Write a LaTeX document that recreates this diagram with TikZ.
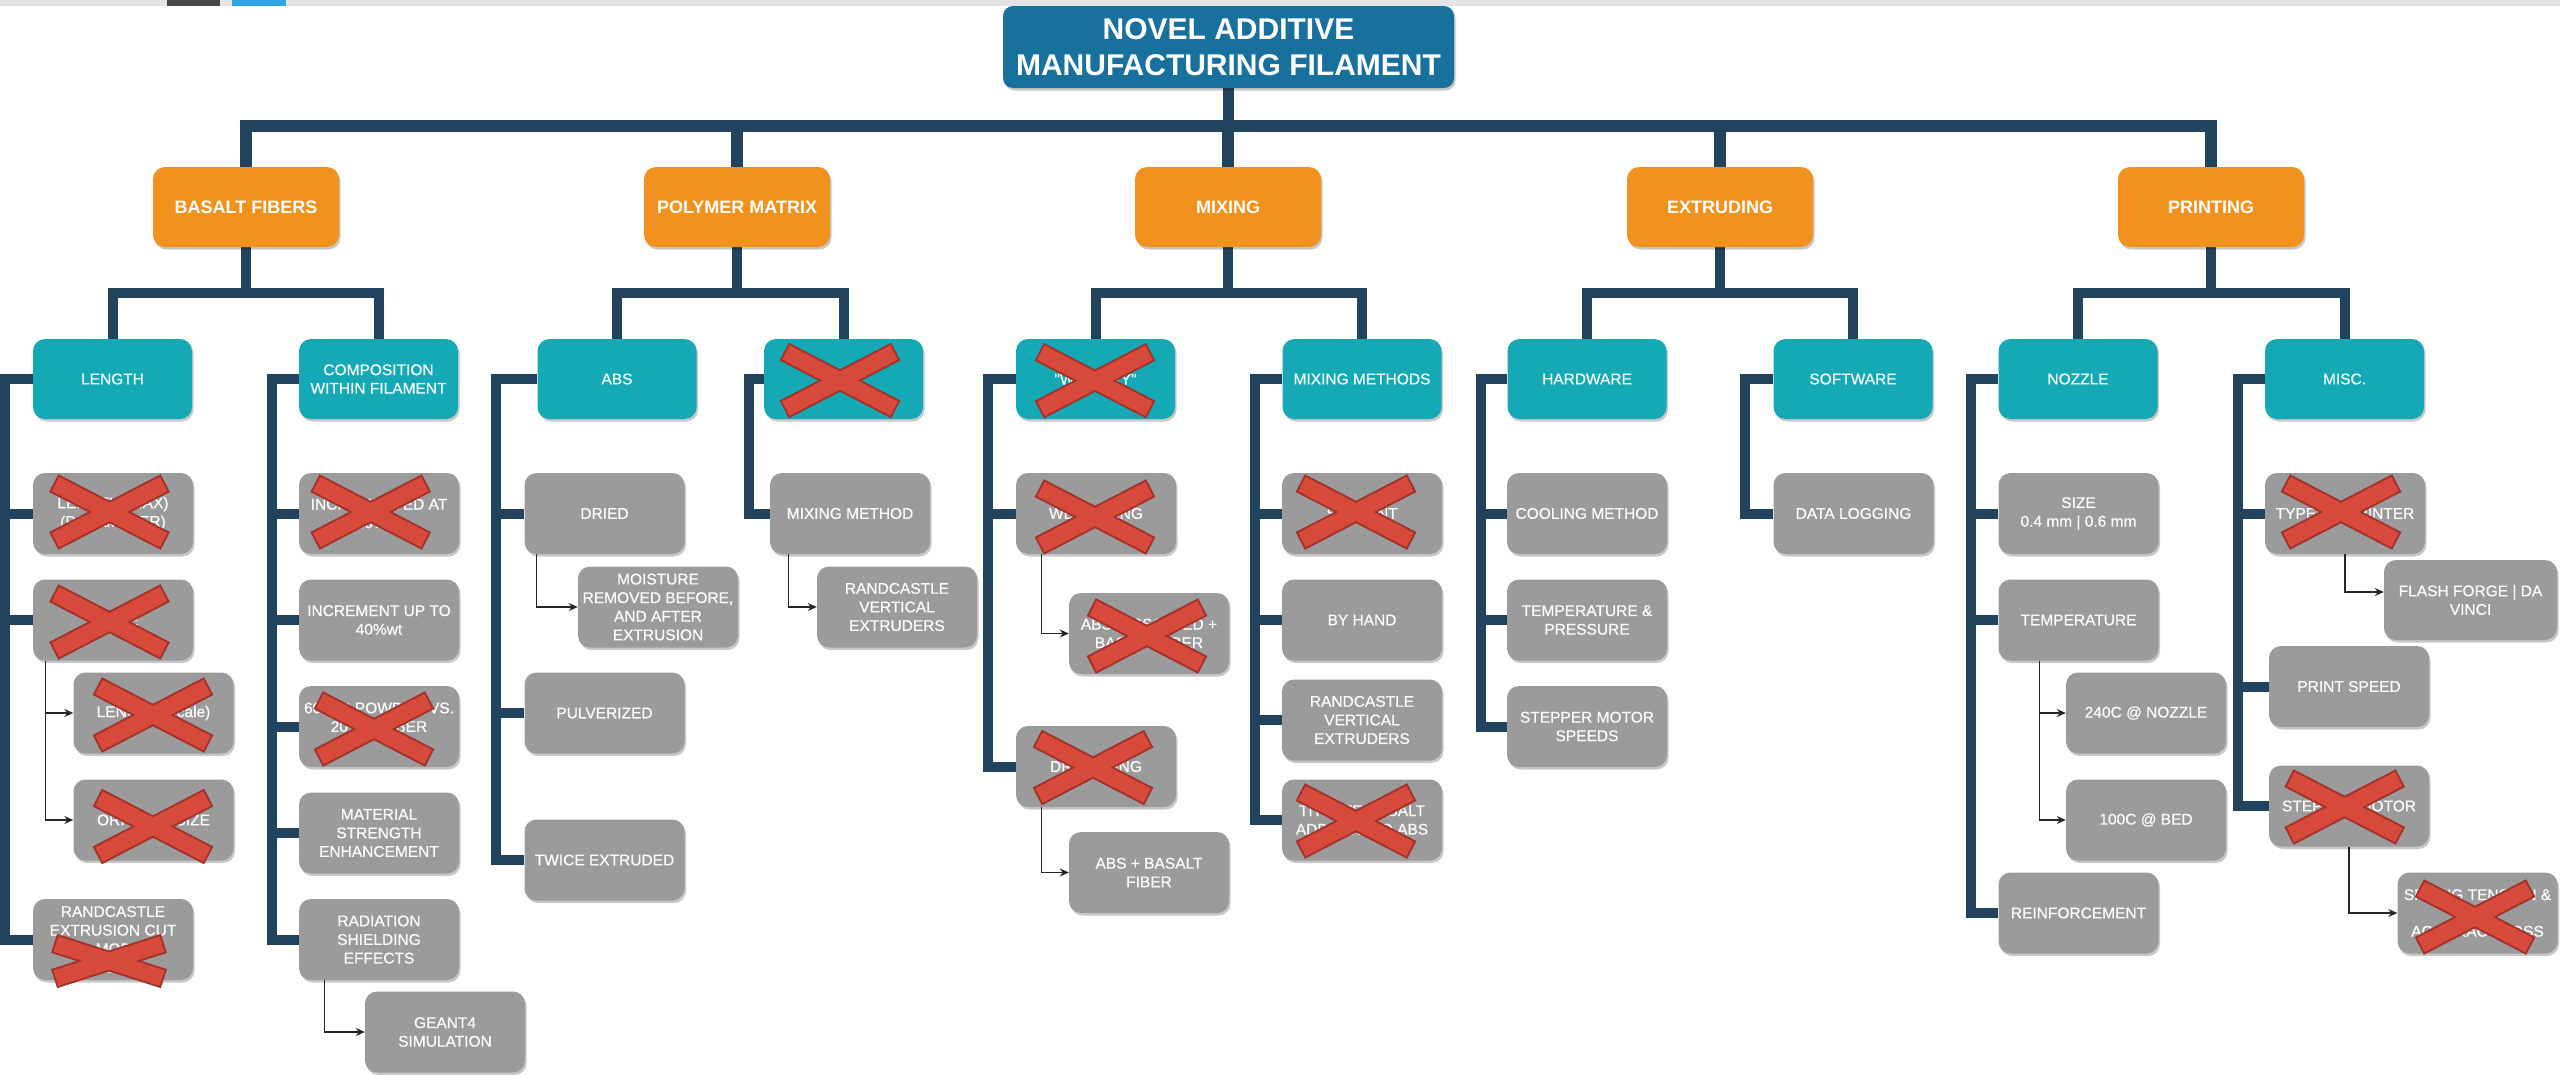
\documentclass[tikz,border=0pt]{standalone}
\usepackage{fontspec}
\setmainfont{Liberation Sans}
\newfontfamily\boxfont[FakeBold=0.7]{Liberation Sans}
\usetikzlibrary{shadows,arrows.meta,calc,backgrounds}
\definecolor{navy}{HTML}{22435E}
\definecolor{rootblue}{HTML}{18709D}
\definecolor{orng}{HTML}{F1921F}
\definecolor{tealc}{HTML}{14A9B5}
\definecolor{gry}{HTML}{9B9B9B}
\definecolor{xred}{HTML}{D84B3C}
\definecolor{xdark}{HTML}{A3332A}
\definecolor{stripgray}{HTML}{E2E4E5}
\definecolor{stripdark}{HTML}{474747}
\definecolor{stripblue}{HTML}{2FA5E6}
\newcommand{\crossmark}[4]{%
  \draw[xo] ({#1-#3},{#2-#4}) -- ({#1+#3},{#2+#4});
  \draw[xo] ({#1-#3},{#2+#4}) -- ({#1+#3},{#2-#4});
  \draw[xi] ({#1-#3},{#2-#4}) -- ({#1+#3},{#2+#4});
  \draw[xi] ({#1-#3},{#2+#4}) -- ({#1+#3},{#2-#4});
}
\tikzset{
  shad/.style={drop shadow={shadow xshift=1.5pt, shadow yshift=-2.5pt, fill=black, opacity=0.22}},
  rootbox/.style={shad, fill=rootblue, rounded corners=10pt, minimum width=451pt, minimum height=82pt,
    inner sep=0pt, text=white, align=center, font=\fontsize{30}{35.5}\selectfont\bfseries},
  obox/.style={shad, fill=orng, rounded corners=12pt, minimum width=186pt, minimum height=80pt,
    inner sep=0pt, text=white, align=center, font=\fontsize{18}{21}\selectfont\bfseries},
  tbox/.style={shad, fill=tealc, rounded corners=12pt, minimum width=159pt, minimum height=80pt,
    inner sep=0pt, text=white!94!tealc, align=center, font=\boxfont\fontsize{15.5}{18.5}\selectfont},
  gbox/.style={shad, fill=gry, rounded corners=12pt, minimum width=160pt, minimum height=81pt,
    inner sep=0pt, text=white!95!gry, align=center, font=\boxfont\fontsize{15.5}{18.6}\selectfont},
  ml/.style={draw=navy, line width=11.5pt, line join=miter},
  tl/.style={draw=navy, line width=10pt, line join=miter},
  ar/.style={draw=black!85, line width=1.3pt, -{Stealth[length=9pt,width=8pt]}},
  xo/.style={draw=xdark, line width=20pt, shorten <=-2pt, shorten >=-2pt},
  xi/.style={draw=xred, line width=16pt},
}
\begin{document}
\begin{tikzpicture}[x=1pt,y=-1pt]
\useasboundingbox (0,0) rectangle (2560,1074);
% ---------- nodes ----------
\node[rootbox] (root) at (1228.5,47) {NOVEL ADDITIVE\\MANUFACTURING FILAMENT};
\node[obox] (bas) at (246,207) {BASALT FIBERS};
\node[obox] (pol) at (737,207) {POLYMER MATRIX};
\node[obox] (mix) at (1228,207) {MIXING};
\node[obox] (ext) at (1720,207) {EXTRUDING};
\node[obox] (pri) at (2211,207) {PRINTING};

\node[tbox] (len)  at (112.5,379) {LENGTH};
\node[tbox] (comp) at (378.5,379) {COMPOSITION\\WITHIN FILAMENT};
\node[tbox] (abs)  at (617,379) {ABS};
\node[tbox] (polx) at (843.5,379) {};
\node[tbox] (wet)  at (1095.5,379) {"WET/DRY"};
\node[tbox] (mm)   at (1362,379) {MIXING METHODS};
\node[tbox] (hw)   at (1587,379) {HARDWARE};
\node[tbox] (sw)   at (1853,379) {SOFTWARE};
\node[tbox] (noz)  at (2078,379) {NOZZLE};
\node[tbox] (misc) at (2344.5,379) {MISC.};

% LENGTH column
\node[gbox] (lg1) at (113,513.5) {LENGTH (MAX)\\(PARAMETER)};
\node[gbox] (lg2) at (113,620) {SCALE};
\node[gbox] (lc1) at (153.5,713) {LENGTH (scale)};
\node[gbox] (lc2) at (153.5,820) {ORIGINAL SIZE};
\node[gbox] (lg3) at (113,939.5) {RANDCASTLE\\EXTRUSION CUT\\TO MODIFY\\LENGTH};
% COMPOSITION column
\node[gbox] (cg1) at (379,513.5) {INCREMENTED AT\\10\%wt};
\node[gbox] (cg2) at (379,620) {INCREMENT UP TO\\40\%wt};
\node[gbox] (cg3) at (379,726.5) {60\%wt POWDER VS.\\20\%wt FIBER\\~};
\node[gbox] (cg4) at (379,833) {MATERIAL\\STRENGTH\\ENHANCEMENT};
\node[gbox] (cg5) at (379,939.5) {RADIATION\\SHIELDING\\EFFECTS};
\node[gbox] (cc)  at (445,1032) {GEANT4\\SIMULATION};
% ABS column
\node[gbox] (ag1) at (604.5,513.5) {DRIED};
\node[gbox] (ac)  at (658,607) {MOISTURE\\REMOVED BEFORE,\\AND AFTER\\EXTRUSION};
\node[gbox] (ag2) at (604.5,713) {PULVERIZED};
\node[gbox] (ag3) at (604.5,860) {TWICE EXTRUDED};
% crossed polymer column
\node[gbox] (pg1) at (850,513.5) {MIXING METHOD};
\node[gbox] (pc)  at (897,607) {RANDCASTLE\\VERTICAL\\EXTRUDERS};
% WET/DRY column
\node[gbox] (wg1) at (1096,513.5) {WET MIXING};
\node[gbox] (wc1) at (1149,633.5) {ABS DISSOLVED +\\BASALT FIBER};
\node[gbox] (wg2) at (1096,766.5) {DRY MIXING};
\node[gbox] (wc2) at (1149,872.5) {ABS + BASALT\\FIBER};
% MIXING METHODS column
\node[gbox] (mg1) at (1362,513.5) {SOLVENT};
\node[gbox] (mg2) at (1362,620) {BY HAND};
\node[gbox] (mg3) at (1362,720) {RANDCASTLE\\VERTICAL\\EXTRUDERS};
\node[gbox] (mg4) at (1362,820) {TITRATE BASALT\\ADDITIVE TO ABS};
% HARDWARE column
\node[gbox] (hg1) at (1587,513.5) {COOLING METHOD};
\node[gbox] (hg2) at (1587,620) {TEMPERATURE \&\\PRESSURE};
\node[gbox] (hg3) at (1587,726.5) {STEPPER MOTOR\\SPEEDS};
% SOFTWARE column
\node[gbox] (sg1) at (1853.5,513.5) {DATA LOGGING};
% NOZZLE column
\node[gbox] (ng1) at (2078.5,513.5) {SIZE\\0.4 mm | 0.6 mm};
\node[gbox] (ng2) at (2078.5,620) {TEMPERATURE};
\node[gbox] (nc1) at (2146,713) {240C @ NOZZLE};
\node[gbox] (nc2) at (2146,820) {100C @ BED};
\node[gbox] (ng3) at (2078.5,913) {REINFORCEMENT};
% MISC column
\node[gbox] (xg1) at (2345,513.5) {TYPE OF PRINTER};
\node[gbox, minimum width=173pt, minimum height=80pt] (xc1) at (2470.5,600) {FLASH FORGE | DA\\VINCI};
\node[gbox] (xg2) at (2349,686.5) {PRINT SPEED};
\node[gbox] (xg3) at (2349,806) {STEPPER MOTOR};
\node[gbox] (xc2) at (2477.5,913) {SPRING TENSION \&\\[18pt]ACCURACY LOSS};

% bracket coordinates
\coordinate (bL) at ($(lg1.west)+(-28,0)$);
\coordinate (bC) at ($(cg1.west)+(-27,0)$);
\coordinate (bA) at ($(ag1.west)+(-28,0)$);
\coordinate (bP) at ($(pg1.west)+(-21,0)$);
\coordinate (bW) at ($(wg1.west)+(-28,0)$);
\coordinate (bM) at ($(mg1.west)+(-27,0)$);
\coordinate (bH) at ($(hg1.west)+(-26,0)$);
\coordinate (bS) at ($(sg1.west)+(-28,0)$);
\coordinate (bN) at ($(ng1.west)+(-27,0)$);
\coordinate (bX) at ($(xg1.west)+(-27,0)$);

% ---------- connectors (behind) ----------
\begin{scope}[on background layer]
\fill[white] (0,0) rectangle (2560,1074);
\fill[stripgray] (0,0) rectangle (2560,5.5);
\fill[stripdark] (167,0) rectangle (220,5.5);
\fill[stripblue] (232,0) rectangle (286,5.5);
% main bus
\draw[ml] (root.south) -- ++(0,38);
\draw[ml] (bas.north) |- ($(root.south)+(0,38)$) -| (pri.north);
\draw[ml] (pol.north) -- ++(0,-41);
\draw[ml] (mix.north) -- ++(0,-41);
\draw[ml] (ext.north) -- ++(0,-41);
% orange to teal
\foreach \o/\l/\r in {bas/len/comp, pol/abs/polx, mix/wet/mm, ext/hw/sw, pri/noz/misc}{
  \draw[tl] (\o.south) -- ++(0,45.5);
  \draw[tl] (\l.north) |- ($(\o.south)+(0,45.5)$) -| (\r.north);
}
% brackets
\draw[tl] (len.west) -| (bL |- lg3.west) -- (lg3.west);
\foreach \g in {lg1,lg2} \draw[tl] (\g.west) -- (\g.west -| bL);
\draw[tl] (comp.west) -| (bC |- cg5.west) -- (cg5.west);
\foreach \g in {cg1,cg2,cg3,cg4} \draw[tl] (\g.west) -- (\g.west -| bC);
\draw[tl] (abs.west) -| (bA |- ag3.west) -- (ag3.west);
\foreach \g in {ag1,ag2} \draw[tl] (\g.west) -- (\g.west -| bA);
\draw[tl] (polx.west) -| (bP |- pg1.west) -- (pg1.west);
\draw[tl] (wet.west) -| (bW |- wg2.west) -- (wg2.west);
\draw[tl] (wg1.west) -- (wg1.west -| bW);
\draw[tl] (mm.west) -| (bM |- mg4.west) -- (mg4.west);
\foreach \g in {mg1,mg2,mg3} \draw[tl] (\g.west) -- (\g.west -| bM);
\draw[tl] (hw.west) -| (bH |- hg3.west) -- (hg3.west);
\foreach \g in {hg1,hg2} \draw[tl] (\g.west) -- (\g.west -| bH);
\draw[tl] (sw.west) -| (bS |- sg1.west) -- (sg1.west);
\draw[tl] (noz.west) -| (bN |- ng3.west) -- (ng3.west);
\foreach \g in {ng1,ng2} \draw[tl] (\g.west) -- (\g.west -| bN);
\draw[tl] (misc.west) -| (bX |- xg3.west) -- (xg3.west);
\foreach \g in {xg1,xg2} \draw[tl] (\g.west) -- (\g.west -| bX);
\end{scope}

% ---------- thin arrows ----------
\draw[ar] ([xshift=12.5pt]lg2.south west) |- (lc1.west);
\draw[ar] ([xshift=12.5pt]lg2.south west) |- (lc2.west);
\draw[ar] ([xshift=26pt]cg5.south west) |- (cc.west);
\draw[ar] ([xshift=12pt]ag1.south west) |- (ac.west);
\draw[ar] ([xshift=18.5pt]pg1.south west) |- (pc.west);
\draw[ar] ([xshift=25.5pt]wg1.south west) |- (wc1.west);
\draw[ar] ([xshift=25.5pt]wg2.south west) |- (wc2.west);
\draw[ar] ([xshift=41pt]ng2.south west) |- (nc1.west);
\draw[ar] ([xshift=41pt]ng2.south west) |- (nc2.west);
\draw[ar] (xg1.south) |- ([yshift=8pt]xc1.west);
\draw[ar] (xg3.south) |- (xc2.west);

% ---------- red crosses ----------
\crossmark{109.5}{512}{54}{28}
\crossmark{109.5}{622}{54}{28}
\crossmark{153}{715}{54}{28}
\crossmark{153}{826.5}{54}{28}
\crossmark{109}{961}{53}{17}
\crossmark{370.7}{512}{54}{28}
\crossmark{374}{729}{54}{28}
\crossmark{840}{380.5}{54}{28}
\crossmark{1095}{380.7}{54}{28}
\crossmark{1095}{517}{54}{28}
\crossmark{1147}{636}{54}{28}
\crossmark{1093}{767.5}{54}{28}
\crossmark{1356}{512}{54}{28}
\crossmark{1356}{821}{54}{28}
\crossmark{2341}{512}{54}{28}
\crossmark{2344.7}{807}{54}{28}
\crossmark{2475}{917}{54}{28}
\end{tikzpicture}
\end{document}
